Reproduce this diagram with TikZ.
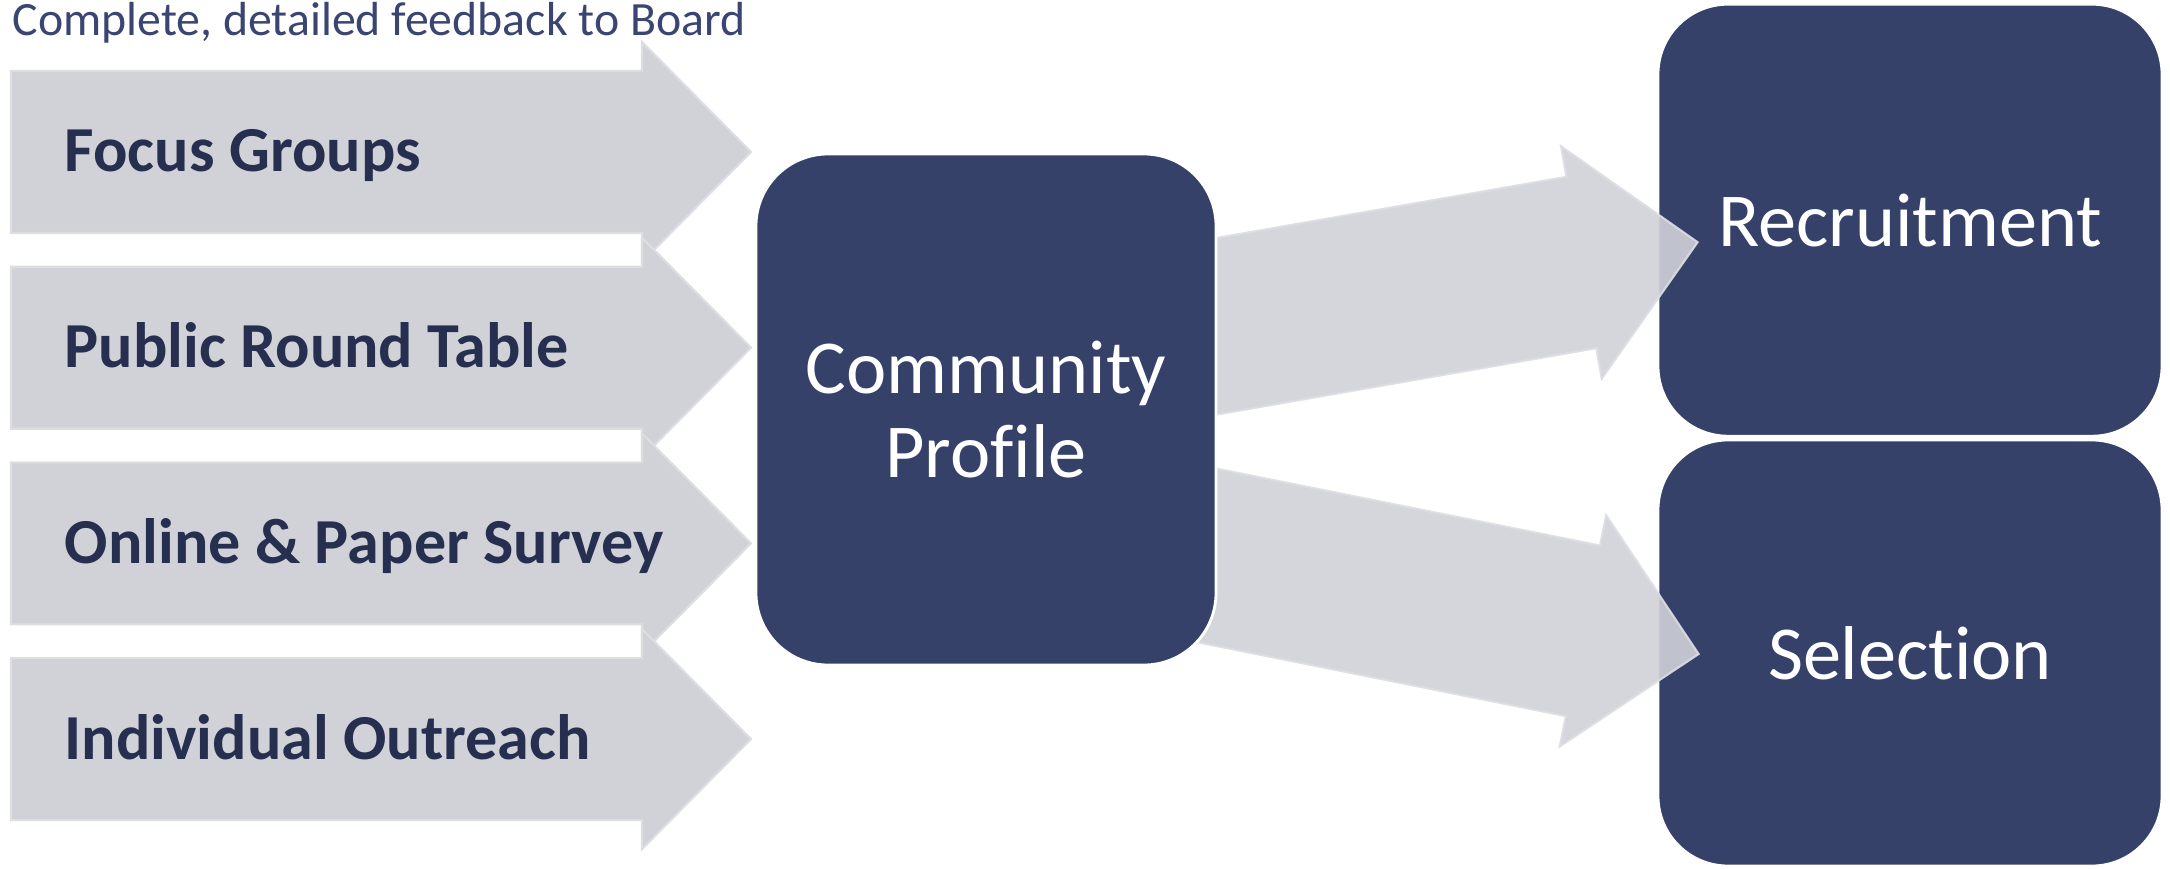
\documentclass[tikz,border=0pt]{standalone}
\usepackage{fontspec}
\setmainfont{Carlito}[Ligatures=NoCommon]
\usetikzlibrary{calc}
\usepackage{xcolor}

\definecolor{boxblue}{HTML}{354169}
\definecolor{labeltext}{HTML}{262F4F}
\definecolor{titletext}{HTML}{3A4572}
\definecolor{arrowgrey}{HTML}{D0D2D8}
\definecolor{arrowedge}{HTML}{DCDEE2}

\pgfdeclarelayer{front}
\pgfsetlayers{main,front}

\begin{document}
\begin{tikzpicture}[
    box/.style={draw=white, line width=0.8pt, fill=boxblue, rounded corners=0.7cm, text=white, align=center, font=\fontsize{21.7}{23.9}\selectfont},
    inarrow/.style={fill=arrowgrey, draw=arrowedge, line width=0.6pt},
    outarrow/.style={fill=arrowgrey, draw=arrowedge, line width=0.6pt, opacity=0.9},
    srctext/.style={anchor=base west, inner sep=0, text=labeltext, font=\bfseries\fontsize{18.25}{21}\selectfont}
]
\useasboundingbox (0,0) rectangle (21.70,8.68);

% Heading
\node[anchor=base west, inner sep=0, text=titletext, font=\fontsize{13.6}{15}\selectfont] (feedback) at (0.12,8.32) {Complete, detailed feedback to Board};

% Input arrows
\foreach \y/\name/\txt in {7.16/focus/Focus Groups, 5.203/roundtable/Public Round Table, 3.246/survey/Online \& Paper Survey, 1.289/outreach/Individual Outreach} {
    \path[inarrow] (0.11,\y+0.81) -- (6.42,\y+0.81) -- (6.42,\y+1.10) -- (7.51,\y) -- (6.42,\y-1.10) -- (6.42,\y-0.81) -- (0.11,\y-0.81) -- cycle;
    \node[srctext] (\name) at (0.64,\y-0.20) {\txt};
}

% Central box, kept in front of the outgoing arrows
\begin{pgfonlayer}{front}
    \node[box, minimum width=4.60cm, minimum height=5.11cm, rounded corners=0.72cm] (profile) at (9.86,4.585) {Community\\Profile};
\end{pgfonlayer}

% Outcome boxes
\node[box, minimum width=5.04cm, minimum height=4.32cm] (recruit) at (19.10,6.478) {Recruitment};
\node[box, minimum width=5.04cm, minimum height=4.26cm] (select) at (19.10,2.15) {Selection};

% Outgoing arrows
\coordinate (t1) at ($(profile.east)+(-0.25,0.79)$);
\coordinate (p1) at ($(recruit.west)+(0.41,-0.22)$);
\coordinate (t2) at ($(profile.east)+(-0.25,-1.43)$);
\coordinate (p2) at ($(select.west)+(0.42,-0.01)$);
\foreach \tail/\tip in {t1/p1, t2/p2} {
    \coordinate (neck) at ($(\tip)!1.18cm!(\tail)$);
    \path[outarrow] ($(\tail)!0.87cm!90:(\tip)$) -- ($(neck)!0.87cm!90:(\tip)$) -- ($(neck)!1.18cm!90:(\tip)$) -- (\tip) -- ($(neck)!1.18cm!-90:(\tip)$) -- ($(neck)!0.87cm!-90:(\tip)$) -- ($(\tail)!0.87cm!-90:(\tip)$) -- cycle;
}
\end{tikzpicture}
\end{document}
